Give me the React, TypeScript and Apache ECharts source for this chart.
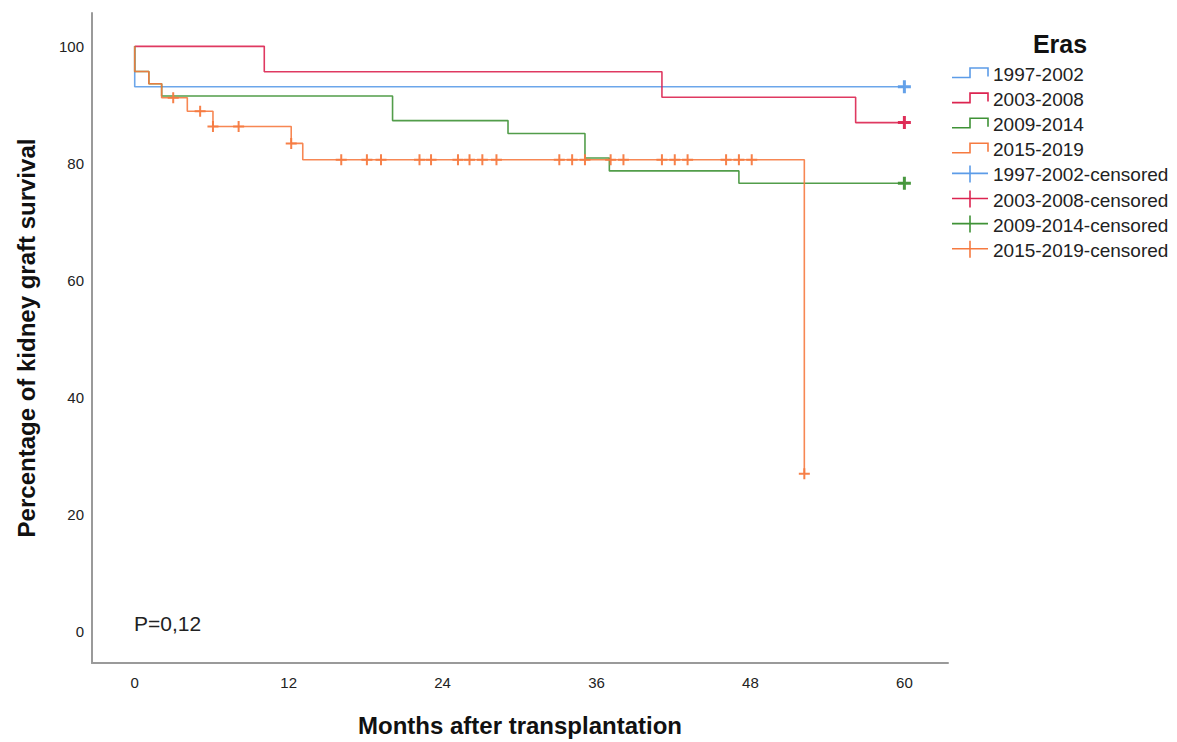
import React, { useEffect, useRef } from "react";
import * as echarts from "echarts";

// ---- data ----
const xTicks = [0, 12, 24, 36, 48, 60];
const yTicks = [0, 20, 40, 60, 80, 100];

const eraNames = ["1997-2002", "2003-2008", "2009-2014", "2015-2019"];
const eraColors = ["#5c9ce8", "#dc2450", "#3f9236", "#f67a40"];

const months1997 = [0, 0, 60];
const surv1997 = [100, 93.1, 93.1];
const censor1997 = [60];

const months2003 = [0, 10.1, 41.1, 56.2, 60];
const surv2003 = [100, 95.65, 91.3, 86.96, 86.96];
const censor2003 = [60];

const months2009 = [0, 0, 1.1, 2.1, 20.1, 29.1, 35.1, 37.0, 47.1, 60];
const surv2009 = [100, 95.7, 93.6, 91.5, 87.3, 85.1, 80.9, 78.7, 76.6, 76.6];
const censor2009 = [60];

const months2015 = [0, 0, 1.1, 2.1, 4.1, 6.1, 12.2, 13.1, 52.2];
const surv2015 = [100, 95.7, 93.6, 91.2, 88.9, 86.3, 83.4, 80.6, 26.9];
const censor2015 = [
  3.0, 5.1, 6.1, 8.1, 12.2, 16.1, 18.1, 19.2, 22.2, 23.1, 25.2, 26.1, 27.1,
  28.2, 33.1, 34.1, 35.1, 37.1, 38.1, 41.1, 42.1, 43.1, 46.1, 47.1, 48.1, 52.2,
];

const pValueText = "P=0,12";

// ---- helpers ----
const allMonths = [months1997, months2003, months2009, months2015];
const allSurv = [surv1997, surv2003, surv2009, surv2015];
const allCensor = [censor1997, censor2003, censor2009, censor2015];

function survAt(months: number[], surv: number[], t: number): number {
  let v = surv[0];
  for (let i = 0; i < months.length; i++) {
    if (months[i] <= t + 1e-9) v = surv[i];
  }
  return v;
}

const FONT = "'Liberation Sans', Arial, Helvetica, sans-serif";
const smallPlus = "path://M0,4.5 H11 V6.5 H0 Z M4.5,0 H6.5 V11 H4.5 Z";
const bigPlus = "path://M0,5 H13 V8 H0 Z M5,0 H8 V13 H5 Z";

export default function App() {
  const ref = useRef<HTMLDivElement>(null);

  useEffect(() => {
    if (!ref.current) return;
    const chart = echarts.init(ref.current, undefined, { renderer: "svg" });

    const lineSeries = eraNames.map((name, i) => ({
      name,
      type: "line",
      step: "end",
      showSymbol: false,
      symbol: "none",
      z: 2 + i,
      data: allMonths[i].map((m, k) => [m, allSurv[i][k]]),
      lineStyle: { color: eraColors[i], width: 1.6, opacity: 0.9 },
      itemStyle: { color: eraColors[i] },
    }));

    const censorSeries = eraNames.map((name, i) => ({
      name: name + "-censored",
      type: "scatter",
      z: 10 + i,
      symbol: i === 3 ? smallPlus : bigPlus,
      symbolSize: i === 3 ? 11 : 13,
      data: allCensor[i].map((t) => [t, survAt(allMonths[i], allSurv[i], t)]),
      itemStyle: { color: eraColors[i], opacity: 0.95 },
    }));

    // legend drawn as graphics
    const legendGraphics: any[] = [];
    legendGraphics.push({
      type: "text",
      x: 1060,
      y: 44,
      style: {
        text: "Eras",
        font: `bold 25px ${FONT}`,
        fill: "#111",
        align: "center",
        verticalAlign: "middle",
      },
    });
    const allNames = [...eraNames, ...eraNames.map((n) => n + "-censored")];
    allNames.forEach((n, idx) => {
      const y = 74.5 + idx * 25.1;
      const col = eraColors[idx % 4];
      if (idx < 4) {
        legendGraphics.push({
          type: "polyline",
          shape: {
            points: [
              [952, y + 3],
              [970, y + 3],
              [970, y - 6.5],
              [988, y - 6.5],
              [988, y + 2],
            ],
          },
          style: { stroke: col, lineWidth: 1.6, fill: "none" },
        });
      } else {
        legendGraphics.push({
          type: "line",
          shape: { x1: 952, y1: y - 1.5, x2: 988, y2: y - 1.5 },
          style: { stroke: col, lineWidth: 1.6 },
        });
        legendGraphics.push({
          type: "line",
          shape: { x1: 970, y1: y - 9.5, x2: 970, y2: y + 7.5 },
          style: { stroke: col, lineWidth: 1.6 },
        });
      }
      legendGraphics.push({
        type: "text",
        x: 993,
        y: y,
        style: {
          text: n,
          font: `19px ${FONT}`,
          fill: "#222",
          align: "left",
          verticalAlign: "middle",
        },
      });
    });

    legendGraphics.push({
      type: "text",
      x: 134,
      y: 623,
      style: {
        text: pValueText,
        font: `21px ${FONT}`,
        fill: "#222",
        align: "left",
        verticalAlign: "middle",
      },
    });

    chart.setOption({
      animation: false,
      backgroundColor: "#ffffff",
      grid: { left: 92, right: 229, top: 13, bottom: 76, containLabel: false },
      xAxis: {
        type: "value",
        min: -3.33,
        max: 63.4,
        name: "Months after transplantation",
        nameLocation: "middle",
        nameGap: 50,
        nameTextStyle: { fontFamily: FONT, fontSize: 24, fontWeight: "bold", color: "#111" },
        axisLine: { show: true, onZero: false, lineStyle: { color: "#9a9a9a", width: 2 } },
        axisTick: { show: false },
        splitLine: { show: false },
        axisLabel: {
          customValues: xTicks,
          fontFamily: FONT,
          fontSize: 15,
          color: "#222",
          margin: 12,
          showMinLabel: true,
          showMaxLabel: true,
        },
      },
      yAxis: {
        type: "value",
        min: -5.45,
        max: 105.7,
        name: "Percentage of kidney graft survival",
        nameLocation: "middle",
        nameGap: 54,
        nameTextStyle: { fontFamily: FONT, fontSize: 24, fontWeight: "bold", color: "#111" },
        axisLine: { show: true, onZero: false, lineStyle: { color: "#9a9a9a", width: 2 } },
        axisTick: { show: false },
        splitLine: { show: false },
        axisLabel: {
          customValues: yTicks,
          fontFamily: FONT,
          fontSize: 15,
          color: "#222",
          margin: 8,
          padding: [5, 0, 0, 0],
        },
      },
      series: [...lineSeries, ...censorSeries],
      graphic: legendGraphics,
    });

    return () => chart.dispose();
  }, []);

  return (
    <div
      ref={ref}
      style={{ position: "absolute", left: 0, top: 0, width: 1177, height: 742, background: "#fff" }}
    />
  );
}
